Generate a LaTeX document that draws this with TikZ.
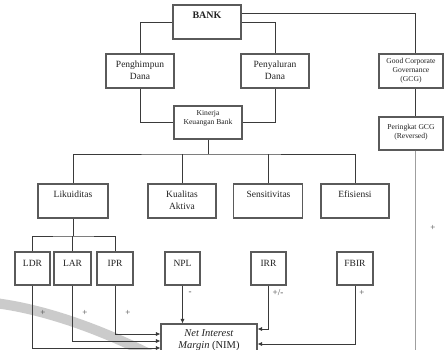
\documentclass[tikz,border=0pt]{standalone}
\usepackage{fontspec}
\setmainfont{Liberation Serif}
\usetikzlibrary{arrows.meta}
\definecolor{boxc}{HTML}{5A5A5A}
\definecolor{linec}{HTML}{3A3A3A}
\definecolor{txtc}{HTML}{222222}
\definecolor{wmark}{HTML}{CBCBCB}
\tikzset{
  box/.style={draw=boxc, line width=1.1pt, fill=white, inner sep=0pt},
  lbl/.style={text=txtc, align=center, inner sep=0pt, font=\fontsize{9.5}{12}\selectfont},
  smalllbl/.style={lbl, font=\fontsize{7.6}{9}\selectfont},
  conn/.style={draw=linec, line width=0.9pt},
  arr/.style={conn, -{Latex[length=4.5pt,width=4.2pt]}},
  sign/.style={text=gray!55!black, inner sep=0pt, font=\fontsize{9}{10}\selectfont},
}
\begin{document}
\begin{tikzpicture}[x=1pt,y=-1pt]
\useasboundingbox (0,0) rectangle (444,350);
\clip (0,0) rectangle (444,350);
\fill[white] (0,0) rectangle (444,350);
% watermark arc
\draw[wmark, line width=10pt] (-5,303) .. controls (50,310) and (110,333) .. (165,362);

% boxes
\node[box, minimum width=68, minimum height=34] (BANK) at (207,22) {};
\node[box, minimum width=68, minimum height=34] (Peng) at (140,71) {};
\node[box, minimum width=68, minimum height=34] (Peny) at (275,71) {};
\node[box, minimum width=68, minimum height=33] (Kin) at (208,122.5) {};
\node[box, minimum width=64, minimum height=34] (GCG) at (411,71) {};
\node[box, minimum width=64, minimum height=33] (Per) at (411,133.5) {};
\node[box, minimum width=70, minimum height=34] (Lik) at (73,201) {};
\node[box, minimum width=68, minimum height=34] (Kual) at (182,201) {};
\node[box, minimum width=69, minimum height=34] (Sens) at (268,201) {};
\node[box, minimum width=68, minimum height=34] (Eff) at (355,201) {};
\node[box, minimum width=35, minimum height=33] (LDR) at (32.5,268.5) {};
\node[box, minimum width=37, minimum height=33] (LAR) at (72.5,268.5) {};
\node[box, minimum width=36, minimum height=33] (IPR) at (115,268.5) {};
\node[box, minimum width=35, minimum height=33] (NPL) at (182.5,268.5) {};
\node[box, minimum width=35, minimum height=33] (IRR) at (268.5,268.5) {};
\node[box, minimum width=36, minimum height=33] (FBIR) at (355,268.5) {};
\node[box, minimum width=96, minimum height=38] (NIM) at (209,343) {};

% texts
\node[lbl, font=\fontsize{10}{12}\selectfont\bfseries] (tBANK) at (207,15) {BANK};
\node[lbl] (tPeng) at (140,70) {Penghimpun\\Dana};
\node[lbl] (tPeny) at (275,70) {Penyaluran\\Dana};
\node[smalllbl] (tKin) at (208,118.5) {Kinerja\\Keuangan Bank};
\node[smalllbl] (tGCG) at (411,71) {Good Corporate\\Governance\\(GCG)};
\node[smalllbl] (tPer) at (411,132) {Peringkat GCG\\(Reversed)};
\node[lbl] (tLik) at (73,194) {Likuiditas};
\node[lbl] (tKual) at (182,200) {Kualitas\\Aktiva};
\node[lbl] (tSens) at (268.5,194) {Sensitivitas};
\node[lbl] (tEff) at (355,194) {Efisiensi};
\node[lbl] (tLDR) at (32.5,263) {LDR};
\node[lbl] (tLAR) at (72.5,263) {LAR};
\node[lbl] (tIPR) at (115,263) {IPR};
\node[lbl] (tNPL) at (182.5,263) {NPL};
\node[lbl] (tIRR) at (268.5,263) {IRR};
\node[lbl] (tFBIR) at (355,263) {FBIR};
\node[lbl, font=\fontsize{10.5}{12}\selectfont] (tNIM) at (209,340) {\textit{Net Interest}\\\textit{Margin} (NIM)};

% connectors
\draw[conn] (BANK.west) -| (Peng.north);
\draw[conn] (BANK.east) -| (Peny.north);
\draw[conn] ([yshift=9pt]BANK.east) -| ([xshift=4pt]GCG.north);
\draw[conn] (Peng.south) |- (Kin.west);
\draw[conn] (Peny.south) |- (Kin.east);
\coordinate (bus1) at (208,154);
\draw[conn] (Kin.south) -- (bus1);
\draw[conn] (Lik.north) |- (bus1) -| (Eff.north);
\draw[conn] (Kual.north) -- (Kual.north |- bus1);
\draw[conn] (Sens.north) -- (Sens.north |- bus1);
\draw[conn] ([xshift=4pt]GCG.south) -- ([xshift=4pt]Per.north);
\coordinate (gend) at (415,355);
\draw[conn, draw=gray!75] ([xshift=4pt]Per.south) -- (gend);
\coordinate (bus2) at (73,236);
\draw[conn] (Lik.south) -- (bus2);
\draw[conn] (LDR.north) |- (bus2) -| (IPR.north);
\draw[conn] (LAR.north) -- (LAR.north |- bus2);

\draw[arr] (IPR.south) |- ([yshift=9pt]NIM.west);
\draw[arr] (LAR.south) |- ([yshift=2pt]NIM.west);
\draw[arr] (LDR.south) |- ([yshift=-5pt]NIM.west);
\draw[arr] (NPL.south) -- (NPL.south |- NIM.north);
\draw[arr] (IRR.south) |- ([yshift=14pt]NIM.east);
\draw[arr] (FBIR.south) |- ([yshift=-1pt]NIM.east);

% signs
\node[sign] (s1) at (43,313) {+};
\node[sign] (s2) at (85,313) {+};
\node[sign] (s3) at (128,313) {+};
\node[sign] (s4) at (190,293) {-};
\node[sign] (s5) at (278,293) {+/-};
\node[sign] (s6) at (362,293) {+};
\node[sign] (s7) at (433,228) {+};
\end{tikzpicture}
\end{document}
